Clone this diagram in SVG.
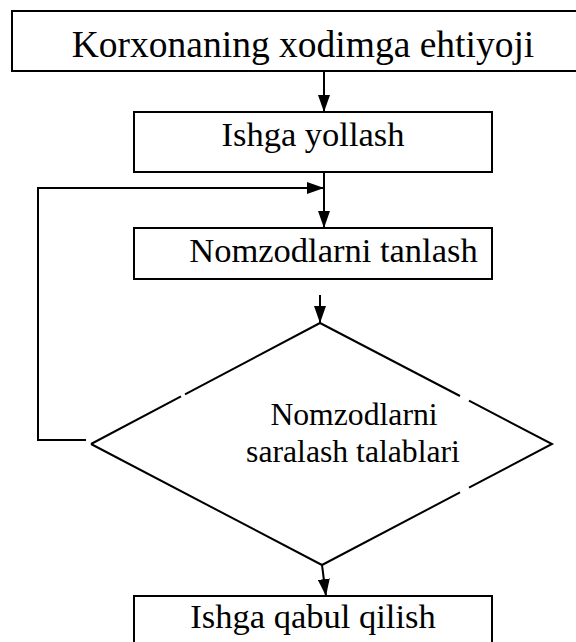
<svg xmlns="http://www.w3.org/2000/svg" width="576" height="642" viewBox="0 0 576 642">
  <style>
    .box { fill: #ffffff; stroke: #000000; stroke-width: 2; }
    .edge { fill: none; stroke: #000000; stroke-width: 2; }
    .conn { fill: none; stroke: #000000; stroke-width: 2; }
    text { font-family: 'Liberation Serif', 'Times New Roman', Times, 'DejaVu Serif', serif; fill: #000000; text-anchor: middle; }
  </style>
  <defs>
    <marker id="arrow" markerUnits="userSpaceOnUse" markerWidth="17" markerHeight="12" viewBox="0 0 17 12" refX="17" refY="6" orient="auto">
      <path d="M0,0 L17,6 L0,12 z" fill="#000000"/>
    </marker>
  </defs>
  <rect width="576" height="642" fill="#ffffff"/>

  <g id="connectors">
    <path class="conn" d="M324,71 V112" marker-end="url(#arrow)"/>
    <path class="conn" d="M324,172 V228" marker-end="url(#arrow)"/>
    <path class="conn" d="M86,440 H38 V188 H324" marker-end="url(#arrow)"/>
    <path class="conn" d="M320,295 V323" marker-end="url(#arrow)"/>
    <path class="conn" d="M322,565 L326,596" marker-end="url(#arrow)"/>
  </g>

  <g id="node-need">
    <rect class="box" x="12" y="11" width="568" height="60"/>
    <text x="303" y="57" font-size="37.5" font-family="Liberation Serif, serif">Korxonaning xodimga ehtiyoji</text>
  </g>

  <g id="node-recruit">
    <rect class="box" x="134" y="112" width="358" height="60"/>
    <text x="313" y="146" font-size="34.5" font-family="Liberation Serif, serif">Ishga yollash</text>
  </g>

  <g id="node-select">
    <rect class="box" x="134" y="228" width="358" height="51"/>
    <text x="333.5" y="262" font-size="34.5" font-family="Liberation Serif, serif">Nomzodlarni tanlash</text>
  </g>

  <g id="node-criteria">
    <path class="edge" d="M91,444 L181,396.45 M185,394.33 L320,323 L460,396 M469,400.7 L552,444 L469,487.7 M460,492.4 L322,565 L91,444"/>
    <text x="354" y="425" font-size="31.7" font-family="Liberation Serif, serif">Nomzodlarni</text>
    <text x="353" y="462" font-size="31.7" font-family="Liberation Serif, serif">saralash talablari</text>
  </g>

  <g id="node-hire">
    <rect class="box" x="134" y="596" width="358" height="60"/>
    <text x="313" y="628" font-size="34.5" font-family="Liberation Serif, serif">Ishga qabul qilish</text>
  </g>
</svg>
